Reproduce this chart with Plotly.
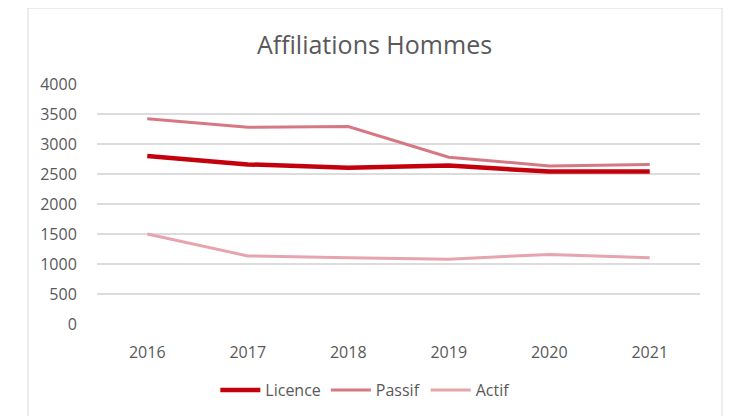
import plotly.graph_objects as go

years = ["2016", "2017", "2018", "2019", "2020", "2021"]
licence = [2800, 2660, 2605, 2640, 2540, 2540]
passif = [3420, 3280, 3290, 2780, 2635, 2660]
actif = [1500, 1135, 1105, 1080, 1160, 1105]
y_ticks = [0, 500, 1000, 1500, 2000, 2500, 3000, 3500, 4000]

fig = go.Figure()
fig.add_trace(go.Scatter(x=years, y=licence, name="Licence", mode="lines",
                         line=dict(color="#C4000C", width=4.5)))
fig.add_trace(go.Scatter(x=years, y=passif, name="Passif", mode="lines",
                         line=dict(color="#D67884", width=3)))
fig.add_trace(go.Scatter(x=years, y=actif, name="Actif", mode="lines",
                         line=dict(color="#E6A4AE", width=3)))

font_family = "Open Sans, Liberation Sans, sans-serif"
fig.update_layout(
    width=731, height=416,
    margin=dict(l=89, r=39, t=76, b=100, autoexpand=False),
    paper_bgcolor="white", plot_bgcolor="white",
    title=dict(text="Affiliations Hommes", x=(374.5 - 8) / 731, xanchor="center",
               y=1 - (45 - 8) / 416, yanchor="middle",
               font=dict(family=font_family, size=25, color="#595959")),
    font=dict(family=font_family, size=16, color="#595959"),
    showlegend=True,
    legend=dict(orientation="h", x=0.445, xanchor="center", y=-0.275, yanchor="middle",
                font=dict(size=16, color="#595959"), itemwidth=40, tracegroupgap=0),
    xaxis=dict(type="category", range=[-0.5, 5.5], showgrid=False, zeroline=False, showline=False,
               ticks="outside", ticklen=14, tickcolor="rgba(0,0,0,0)",
               tickfont=dict(size=16, color="#595959")),
    yaxis=dict(range=[0, 4000], tickvals=y_ticks, showgrid=True, gridcolor="#DCDCDC",
               gridwidth=1.5, zeroline=False, showline=False,
               ticks="outside", ticklen=16, tickcolor="rgba(0,0,0,0)",
               tickfont=dict(size=16, color="#595959")),
    shapes=[dict(type="rect", xref="paper", yref="paper",
                 x0=(28 - 97) / 603, x1=(722 - 97) / 603,
                 y0=(324 - 420) / 240, y1=(324 - 8) / 240,
                 line=dict(color="#D9D9D9", width=1), fillcolor="rgba(0,0,0,0)", layer="below")],
)

fig.write_html("out.html")
